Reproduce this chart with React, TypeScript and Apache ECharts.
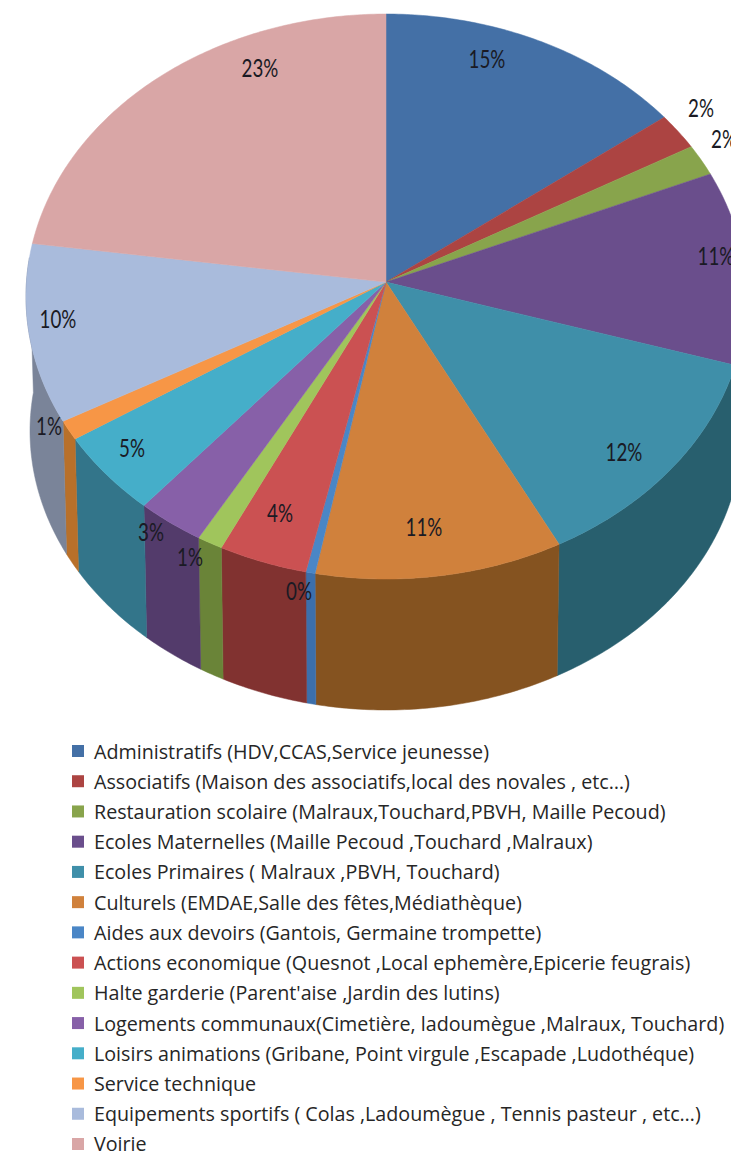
import React, { useEffect, useRef } from "react";
import * as echarts from "echarts";

const categories = [
  "Administratifs (HDV,CCAS,Service jeunesse)",
  "Associatifs (Maison des associatifs,local des novales , etc…)",
  "Restauration scolaire (Malraux,Touchard,PBVH, Maille Pecoud)",
  "Ecoles Maternelles (Maille Pecoud ,Touchard ,Malraux)",
  "Ecoles Primaires ( Malraux ,PBVH, Touchard)",
  "Culturels (EMDAE,Salle des fêtes,Médiathèque)",
  "Aides aux devoirs (Gantois, Germaine trompette)",
  "Actions economique (Quesnot ,Local ephemère,Epicerie feugrais)",
  "Halte garderie (Parent'aise ,Jardin des lutins)",
  "Logements communaux(Cimetière, ladoumègue ,Malraux, Touchard)",
  "Loisirs animations (Gribane, Point virgule ,Escapade ,Ludothéque)",
  "Service technique",
  "Equipements sportifs ( Colas ,Ladoumègue , Tennis pasteur , etc…)",
  "Voirie",
];
const values = [14.7, 2.1, 1.8, 11.1, 12.7, 10.6, 0.4, 3.8, 1.1, 2.9, 4.7, 1.1, 10.2, 22.8];
const percentLabels = ["15%", "2%", "2%", "11%", "12%", "11%", "0%", "4%", "1%", "3%", "5%", "1%", "10%", "23%"];
const topColors = ["#4470A6", "#AC4442", "#88A44C", "#6A4E8C", "#3F8FA9", "#D0813C", "#4A86C6", "#CB5152", "#A0C55C", "#8760A8", "#45AEC9", "#F79646", "#A9BBDC", "#D9A6A6"];
const wallColors = ["#34567F", "#7A302E", "#637A36", "#4E3A68", "#285F6E", "#855320", "#3C6FAB", "#813230", "#6A8438", "#533B6B", "#33758A", "#B8702A", "#7A8499", "#A07A7A"];
const labelX = [487, 701, 724, 716, 624, 424, 299, 280, 190, 151, 132, 49, 58, 260];
const labelY = [58, 107, 138, 255, 451, 526, 590, 512, 556, 531, 447, 425, 318, 67];

const CX = 386;
const TOP_CY = 296.5;
const RX = 360;
const RY = 282.5;
const BOT_CY = 431;
const BOT_RX = 356;
const BOT_RY = 279;
const H = 0.051; // perspective shift of the hub inside the rim ellipse

const total = values.reduce((a, b) => a + b, 0);
const starts: number[] = [];
values.reduce((acc, v, i) => {
  starts[i] = acc;
  return acc + v;
}, 0);

function rim(theta: number) {
  const X = Math.sin(theta);
  const Y = Math.cos(theta);
  const d = 1 + H * Y;
  return { u: (X * Math.sqrt(1 - H * H)) / d, v: (Y + H) / d };
}
const topPt = (t: number) => {
  const p = rim(t);
  return [CX + RX * p.u, TOP_CY - RY * p.v];
};
const botPt = (t: number) => {
  const p = rim(t);
  return [CX + BOT_RX * p.u, BOT_CY - BOT_RY * p.v];
};
function arc(a: number, b: number, f: (t: number) => number[]) {
  const n = Math.max(2, Math.ceil((b - a) / 0.012));
  const pts: number[][] = [];
  for (let i = 0; i <= n; i++) pts.push(f(a + ((b - a) * i) / n));
  return pts;
}

function sliceSeries(i: number) {
  const a = (starts[i] / total) * Math.PI * 2;
  const b = ((starts[i] + values[i]) / total) * Math.PI * 2;
  const wallA = Math.max(a, Math.PI / 2);
  const wallB = Math.min(b, (Math.PI * 275) / 180);
  return {
    type: "custom",
    name: categories[i],
    coordinateSystem: "none",
    silent: true,
    itemStyle: { color: topColors[i] },
    data: [values[i]],
    renderItem: () => {
      const children: any[] = [];
      if (wallB > wallA) {
        children.push({
          type: "polygon",
          shape: { points: [...arc(wallA, wallB, topPt), ...arc(wallA, wallB, botPt).reverse()] },
          style: { fill: wallColors[i], stroke: wallColors[i], lineWidth: 0.5 },
        });
      }
      children.push({
        type: "polygon",
        shape: { points: [[CX, TOP_CY - RY * H], ...arc(a, b, topPt)] },
        style: { fill: topColors[i], stroke: topColors[i], lineWidth: 0.5 },
      });
      return { type: "group", children };
    },
  };
}

export default function App() {
  const ref = useRef<HTMLDivElement>(null);
  useEffect(() => {
    document.body.style.margin = "0";
    const chart = echarts.init(ref.current!, undefined, { renderer: "svg" });
    chart.setOption({
      animation: false,
      backgroundColor: "#ffffff",
      legend: {
        orient: "vertical",
        left: 72,
        top: 741,
        height: 460,
        width: 655,
        padding: 0,
        itemWidth: 12,
        itemHeight: 12,
        itemGap: 10.23,
        icon: "rect",
        selectedMode: false,
        data: categories,
        textStyle: {
          fontFamily: "Open Sans",
          fontSize: 19.7,
          lineHeight: 20,
          color: "#262626",
          padding: [0, 0, 0, 5],
        },
      },
      series: [
        ...values.map((_, i) => sliceSeries(i)),
        {
          type: "custom",
          coordinateSystem: "none",
          silent: true,
          z: 5,
          data: percentLabels,
          renderItem: (params: any) => ({
            type: "text",
            x: labelX[params.dataIndex],
            y: labelY[params.dataIndex],
            scaleX: 0.75,
            style: {
              text: percentLabels[params.dataIndex],
              fontFamily: "Lato",
              fontSize: 25,
              fill: "#1a1a24",
              align: "center",
              verticalAlign: "middle",
            },
          }),
        },
      ],
    });
    return () => chart.dispose();
  }, []);
  return <div ref={ref} style={{ width: 731, height: 1152, overflow: "hidden" }} />;
}
